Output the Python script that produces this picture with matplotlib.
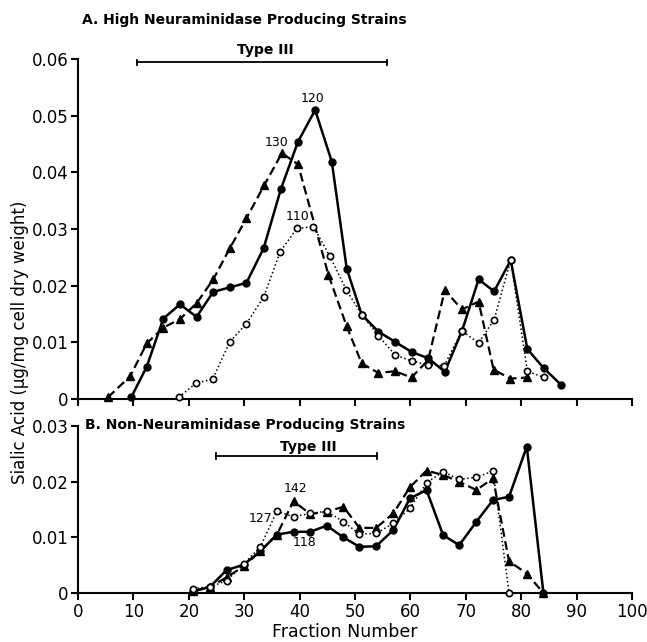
import matplotlib
matplotlib.use("Agg")
import matplotlib.pyplot as plt

plt.rcParams["font.family"] = "DejaVu Sans"

# panel A - high neuraminidase producing strains
a120_x = [9.6, 12.4, 15.4, 18.4, 21.4, 24.4, 27.4, 30.4, 33.5, 36.6, 39.7, 42.8, 45.8, 48.5,
          51.2, 54.2, 57.2, 60.2, 63.2, 66.2, 69.3, 72.3, 75.1, 78.1, 81.1, 84.1, 87.2]
a120_y = [0.0003, 0.0057, 0.0142, 0.0167, 0.0145, 0.0189, 0.0197, 0.0205, 0.0266, 0.037,
          0.0454, 0.051, 0.0419, 0.023, 0.0149, 0.0119, 0.0101, 0.0083, 0.0072, 0.0048,
          0.012, 0.0211, 0.019, 0.0245, 0.0088, 0.0054, 0.0025]

a130_x = [5.4, 9.4, 12.4, 15.4, 18.4, 21.4, 24.4, 27.4, 30.4, 33.6, 36.8, 39.7, 45.2, 48.5,
          51.2, 54.2, 57.2, 60.2, 63.2, 66.2, 69.3, 72.3, 75.0, 78.0, 81.1]
a130_y = [0.0003, 0.004, 0.0098, 0.0126, 0.0141, 0.0169, 0.0211, 0.0266, 0.0319, 0.0377,
          0.0434, 0.0414, 0.0219, 0.0128, 0.0063, 0.0046, 0.0049, 0.0038, 0.0069, 0.0192,
          0.0158, 0.0172, 0.0052, 0.0036, 0.0038]

a110_x = [18.2, 21.3, 24.3, 27.4, 30.4, 33.5, 36.5, 39.5, 42.5, 45.4, 48.4, 51.2, 54.2,
          57.2, 60.2, 63.2, 66.1, 69.3, 72.3, 75.1, 78.1, 81.1, 84.1]
a110_y = [0.0003, 0.0028, 0.0035, 0.0101, 0.0133, 0.018, 0.026, 0.0301, 0.0304, 0.0253,
          0.0193, 0.0149, 0.0112, 0.0078, 0.0067, 0.006, 0.0059, 0.012, 0.0099, 0.014,
          0.0245, 0.0049, 0.0038]

# panel B - non-neuraminidase producing strains
b_x = [20.8, 23.8, 26.8, 29.9, 32.9, 35.9, 38.9, 41.9, 44.9, 47.9, 50.8, 53.8, 56.9,
       59.9, 62.9, 65.9, 68.8, 71.9, 74.9, 77.8, 81.0, 84.0]
b118_y = [0.0003, 0.0011, 0.0041, 0.0051, 0.0075, 0.0105, 0.011, 0.011, 0.0121, 0.01,
          0.0083, 0.0084, 0.0113, 0.017, 0.0185, 0.0104, 0.0086, 0.0128, 0.0167, 0.0173,
          0.0263, 0.0]
b142_y = [0.0003, 0.0011, 0.0028, 0.0048, 0.0075, 0.0105, 0.0165, 0.0142, 0.0146, 0.0155,
          0.0117, 0.0117, 0.0143, 0.019, 0.022, 0.0212, 0.02, 0.0185, 0.0206, 0.0057,
          0.0035, 0.0]
b127_x = b_x[:20]
b127_y = [0.0008, 0.0011, 0.0022, 0.0052, 0.0083, 0.0147, 0.0137, 0.0143, 0.0147, 0.0128,
          0.0106, 0.0107, 0.0125, 0.0152, 0.0198, 0.0218, 0.0204, 0.0208, 0.0219, 0.0]

x_ticks = [0, 10, 20, 30, 40, 50, 60, 70, 80, 90, 100]
a_yticks = [0, 0.01, 0.02, 0.03, 0.04, 0.05, 0.06]
a_ylabels = ["0", "0.01", "0.02", "0.03", "0.04", "0.05", "0.06"]
b_yticks = [0, 0.01, 0.02, 0.03]
b_ylabels = ["0", "0.01", "0.02", "0.03"]


def solid(ax, x, y):
    ax.plot(x, y, color="black", lw=1.8, marker="o", ms=5, clip_on=False, zorder=3)


def dashed(ax, x, y):
    ax.plot(x, y, color="black", lw=1.6, dashes=(4, 2), marker="^", ms=5.5,
            clip_on=False, zorder=3)


def dotted(ax, x, y):
    ax.plot(x, y, color="black", lw=1.1, ls=":", marker="o", ms=4.5, mfc="white",
            mec="black", mew=1.2, clip_on=False, zorder=4)


def style(ax, yticks, ylabels, show_x):
    ax.set_xlim(0, 100)
    ax.set_xticks(x_ticks)
    if show_x:
        ax.set_xticklabels([str(t) for t in x_ticks])
    else:
        ax.set_xticklabels([])
    ax.set_yticks(yticks, ylabels)
    for s in ["top", "right"]:
        ax.spines[s].set_visible(False)
    for s in ["left", "bottom"]:
        ax.spines[s].set_linewidth(1.5)
    ax.tick_params(direction="out", length=5, width=1.5, labelsize=12, pad=2)


fig = plt.figure(figsize=(6.47, 6.42), dpi=100)
ax1 = fig.add_axes([0.1206, 0.3785, 0.8563, 0.5296])
ax2 = fig.add_axes([0.1206, 0.0763, 0.8563, 0.2601])

solid(ax1, a120_x, a120_y)
dashed(ax1, a130_x, a130_y)
dotted(ax1, a110_x, a110_y)
ax1.set_ylim(0, 0.06)
style(ax1, a_yticks, a_ylabels, False)

solid(ax2, b_x, b118_y)
dashed(ax2, b_x, b142_y)
dotted(ax2, b127_x, b127_y)
ax2.set_ylim(0, 0.03)
style(ax2, b_yticks, b_ylabels, True)

# Type III ranges
ax1.plot([10.6, 55.8], [0.0594, 0.0594], color="black", lw=1.3, clip_on=False)
ax1.plot([10.6, 10.6], [0.0589, 0.0599], color="black", lw=1.3, clip_on=False)
ax1.plot([55.8, 55.8], [0.0589, 0.0599], color="black", lw=1.3, clip_on=False)
ax1.text(33.8, 0.0616, "Type III", ha="center", va="center", fontsize=10, fontweight="bold")

ax2.plot([24.9, 54.0], [0.0246, 0.0246], color="black", lw=1.3)
ax2.plot([24.9, 24.9], [0.0241, 0.0251], color="black", lw=1.3)
ax2.plot([54.0, 54.0], [0.0241, 0.0251], color="black", lw=1.3)
ax2.text(41.5, 0.0262, "Type III", ha="center", va="center", fontsize=10, fontweight="bold")

# strain labels
ax1.text(42.4, 0.0531, "120", ha="center", va="center", fontsize=9)
ax1.text(35.9, 0.0453, "130", ha="center", va="center", fontsize=9)
ax1.text(39.6, 0.0322, "110", ha="center", va="center", fontsize=9)
ax2.text(39.2, 0.0187, "142", ha="center", va="center", fontsize=9)
ax2.text(32.9, 0.0133, "127", ha="center", va="center", fontsize=9)
ax2.text(40.8, 0.0090, "118", ha="center", va="center", fontsize=9)

fig.text(82 / 647, 1 - 20 / 642, "A. High Neuraminidase Producing Strains",
         ha="left", va="center", fontsize=10, fontweight="bold")
fig.text(85 / 647, 1 - 425 / 642, "B. Non-Neuraminidase Producing Strains",
         ha="left", va="center", fontsize=10, fontweight="bold")

fig.text(20 / 647, 1 - 342 / 642, "Sialic Acid (µg/mg cell dry weight)",
         rotation=90, ha="center", va="center", fontsize=12)
fig.text(345 / 647, 1 - 632 / 642, "Fraction Number", ha="center", va="center", fontsize=12.5)

fig.savefig("out.png", dpi=100)
